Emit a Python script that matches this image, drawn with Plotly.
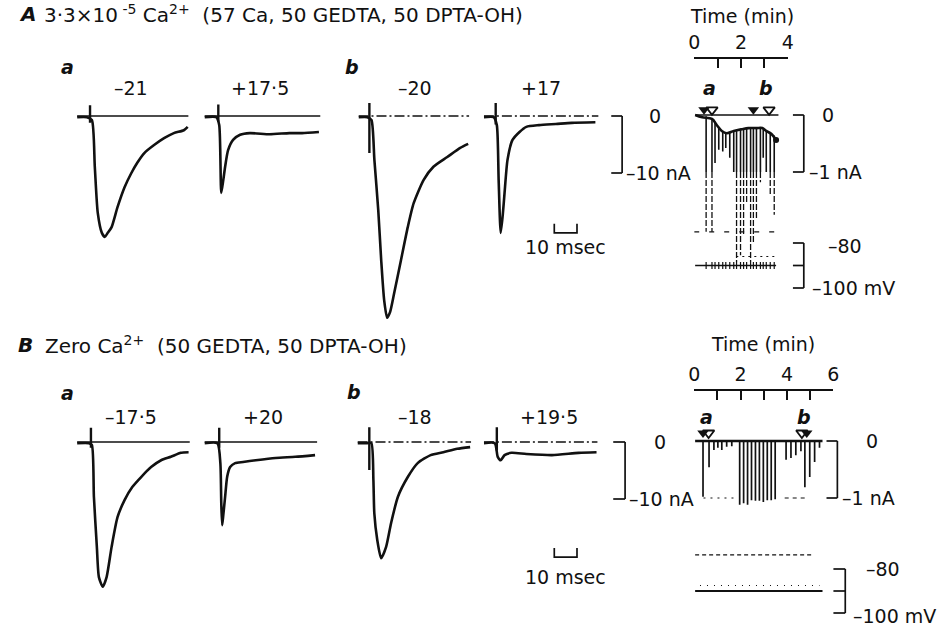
import plotly.graph_objects as go

W, H = 950, 627
FONT = "DejaVu Sans"
INK = "#111111"
FS = 19          # label font size
FS_HEAD = 20     # heading font size
MINUS = "\u2013"

# ---------------------------------------------------------------------------
# Membrane current records: time (ms from start of sweep), current (nA)
# ---------------------------------------------------------------------------
A_a1_t = [0, 4.3, 6.5, 7.8, 9.1, 10.9, 12.2, 13.5, 15.2, 17.8, 20.9, 23.9, 26.5, 29.6, 33.9, 38.3, 42.6, 47.0, 48.7]
A_a1_i = [-0.2, -0.2, -0.7, -8.9, -17.0, -20.5, -21.2, -20.5, -19.5, -16.0, -12.5, -10.0, -8.2, -6.5, -5.1, -3.9, -3.0, -2.5, -1.9]

A_a2_t = [0, 5.2, 6.5, 7.4, 8.3, 9.1, 10.4, 12.6, 15.7, 20.0, 28.7, 37.4, 43.0, 50.4]
A_a2_i = [-0.2, -0.2, -1.6, -13.5, -11.2, -8.9, -6.0, -4.2, -3.3, -3.0, -3.2, -3.0, -3.0, -2.8]

A_b1_t = [0, 3.9, 5.7, 7.0, 8.7, 10.0, 11.3, 12.6, 13.9, 15.7, 18.7, 21.7, 24.3, 28.7, 33.0, 39.1, 44.8, 48.3]
A_b1_i = [-0.2, -0.2, -0.7, -7.7, -16.5, -25.3, -32.3, -35.4, -34.4, -31.1, -25.3, -19.5, -15.3, -11.2, -8.9, -7.2, -5.6, -4.9]

A_b2_t = [0, 4.3, 5.7, 6.5, 7.4, 8.3, 9.1, 10.4, 12.6, 15.7, 18.7, 24.3, 31.7, 38.7, 49.1]
A_b2_i = [-0.2, -0.2, -1.6, -11.2, -20.5, -17.4, -13.5, -7.7, -4.2, -2.8, -1.9, -1.6, -1.4, -1.2, -1.1]

B_a1_t = [0, 5.2, 6.5, 7.4, 8.7, 9.6, 11.3, 13.0, 15.2, 17.8, 20.9, 24.3, 28.3, 32.6, 37.0, 41.3, 45.7, 49.1]
B_a1_i = [-0.2, -0.2, -0.5, -9.6, -18.4, -23.7, -25.4, -23.7, -18.4, -13.2, -10.2, -7.9, -6.1, -4.4, -3.2, -2.6, -1.9, -1.8]

B_a2_t = [0, 5.7, 7.0, 7.4, 7.8, 8.3, 9.1, 10.0, 11.3, 13.5, 17.0, 22.6, 31.3, 40.0, 48.7]
B_a2_i = [-0.2, -0.2, -3.7, -10.7, -14.6, -12.8, -9.6, -6.1, -4.4, -3.7, -3.5, -3.2, -2.8, -2.6, -2.3]

B_b1_t = [0, 4.3, 6.1, 7.0, 7.4, 8.7, 10.4, 12.6, 14.8, 17.8, 22.2, 26.5, 32.2, 37.8, 43.9, 49.6]
B_b1_i = [-0.2, -0.2, -0.2, -6.7, -12.5, -17.2, -20.4, -18.4, -14.2, -9.6, -6.1, -3.7, -2.3, -1.8, -1.2, -0.9]

B_b2_t = [0, 4.8, 6.1, 7.4, 9.1, 12.2, 18.7, 30.0, 41.7, 49.6]
B_b2_i = [-0.2, -0.2, -2.6, -3.2, -2.3, -1.9, -2.1, -2.3, -1.9, -1.8]

# stimulus artefacts: time (ms), upper and lower excursion (nA)
art_t = [5.7, 6.1, 4.8, 5.2, 6.1, 6.5, 5.2, 5.7]
art_hi = [1.9, 2.0, 2.3, 2.3, 2.5, 2.5, 2.6, 2.6]
art_lo = [-1.2, -1.0, -6.5, -1.5, -1.0, -1.0, -4.9, -1.5]

# zero-current reference length of each sweep (ms)
zero_end = [49.0, 51.0, 48.7, 50.4, 49.6, 49.6, 50.0, 50.0]

# test potentials (mV)
A_pot = [MINUS + "21", "+17\u00b75", MINUS + "20", "+17"]
B_pot = [MINUS + "17\u00b75", "+20", MINUS + "18", "+19\u00b75"]

# calibration
cal_ms = [0, 10]
cal_nA = [0, -10]
cal_chart_nA = [0, -1]
cal_mV = [-80, -90, -100]

# ---------------------------------------------------------------------------
# Chart-recorder records (time in min)
# ---------------------------------------------------------------------------
chA_time_labels = [0, 2, 4]
chB_time_labels = [0, 2, 4, 6]

chA_hold_t = [0.04, 0.34, 0.76, 0.97, 1.18, 1.39, 1.69, 2.03, 2.32, 2.66, 2.91, 3.08, 3.29, 3.50]
chA_hold_i = [0, -0.04, -0.07, -0.18, -0.28, -0.32, -0.28, -0.25, -0.23, -0.23, -0.23, -0.28, -0.33, -0.44]
chA_zero_t = [0.04, 3.6]
chA_pulse_t = [0.51, 0.76, 0.89, 1.05, 1.22, 1.35, 1.52, 1.69, 1.81, 1.98, 2.11, 2.24, 2.41, 2.53, 2.66, 2.83, 2.95, 3.08, 3.25, 3.42]
chA_pulse_from = [-0.02, -0.07, -0.12, -0.22, -0.28, -0.31, -0.30, -0.28, -0.27, -0.25, -0.24, -0.23, -0.23, -0.23, -0.23, -0.23, -0.23, -0.28, -0.31, -0.36]
chA_pulse_to = [-2.05, -2.05, -0.84, -0.61, -0.64, -0.58, -0.75, -1.0, -2.58, -2.46, -2.1, -1.53, -2.58, -2.23, -1.81, -1.18, -0.75, -1.0, -1.4, -1.75]
chA_limit_t = [0.0, 3.5]
chA_limit_i = [-2.05, -2.05]
chA_v_t = [0.04, 3.5]
chA_v = [-90, -90]
chA_vdot_t = [1.8, 3.5]
chA_vdot = [-86, -86]
chA_open = [0.76, 3.2]
chA_filled = [0.42, 2.53]
chA_marks = ["a", "b"]
chA_mark_t = [0.65, 3.05]

chB_zero_t = [0.04, 5.53]
chB_pulse_t = [0.38, 0.64, 0.85, 1.02, 1.19, 1.40, 1.62, 1.96, 2.13, 2.30, 2.47, 2.64, 2.81, 2.98, 3.15, 3.32, 3.49, 3.96, 4.17, 4.38, 4.60, 4.77, 4.98, 5.19, 5.40]
chB_pulse_to = [-0.98, -0.46, -0.16, -0.12, -0.16, -0.10, -0.09, -1.12, -1.09, -1.12, -1.04, -1.05, -1.05, -1.07, -1.04, -1.04, -1.02, -0.33, -0.30, -0.25, -0.18, -0.81, -0.63, -0.37, -0.12]
chB_dot1_t = [0.4, 1.7]
chB_dot2_t = [3.9, 4.8]
chB_v_t = [0.04, 5.53]
chB_v = [-90, -90]
chB_vdash_t = [0.04, 5.1]
chB_vdash = [-73.6, -73.6]
chB_vdot_t = [0.25, 5.4]
chB_vdot = [-87.5, -87.5]
chB_open = [0.62, 4.64]
chB_filled = [0.38, 4.85]
chB_marks = ["a", "b"]
chB_mark_t = [0.55, 4.75]


# ---------------------------------------------------------------------------
def px_x(p):
    return p / W


def px_y(p):
    return 1 - p / H


def hidden_y(top, bottom, ref_px, ref_val, ppu):
    return dict(domain=[px_y(bottom), px_y(top)],
                range=[ref_val - (bottom - ref_px) / ppu, ref_val + (ref_px - top) / ppu],
                visible=False, fixedrange=True)


def hidden_x(left, right, ppu, anchor):
    return dict(domain=[px_x(left), px_x(right)], range=[0, (right - left) / ppu],
                visible=False, fixedrange=True, anchor=anchor)


fig = go.Figure()
layout = {}
shapes = []
annotations = []

MS_PX = 2.3      # px per ms
NA_PX = 5.7      # px per nA

layout["yaxis"] = hidden_y(95, 335, 116, 0, NA_PX)
layout["yaxis2"] = hidden_y(420, 600, 442, 0, NA_PX)

sweep_left = [72, 201, 357, 484, 72, 201, 356, 484]
sweeps = [(A_a1_t, A_a1_i), (A_a2_t, A_a2_i), (A_b1_t, A_b1_i), (A_b2_t, A_b2_i),
          (B_a1_t, B_a1_i), (B_a2_t, B_a2_i), (B_b1_t, B_b1_i), (B_b2_t, B_b2_i)]

for k, (t, cur) in enumerate(sweeps):
    xn = k + 1
    yname = "y" if k < 4 else "y2"
    layout["xaxis" if xn == 1 else f"xaxis{xn}"] = hidden_x(sweep_left[k], sweep_left[k] + 128, MS_PX, yname)
    xname = "x" if xn == 1 else f"x{xn}"
    is_b = (k % 4) >= 2
    # zero-current reference
    fig.add_trace(go.Scatter(x=[0, zero_end[k]], y=[0, 0], xaxis=xname, yaxis=yname, mode="lines",
                             line=dict(color=INK, width=1.3, dash="10px,3px,2px,3px" if is_b else "solid"),
                             hoverinfo="skip", showlegend=False))
    # current record
    fig.add_trace(go.Scatter(x=t, y=cur, xaxis=xname, yaxis=yname, mode="lines",
                             line=dict(color=INK, width=2.6, shape="spline", smoothing=0.6),
                             hoverinfo="skip", showlegend=False))
    # artefact
    fig.add_trace(go.Scatter(x=[art_t[k], art_t[k]], y=[art_hi[k], art_lo[k]], xaxis=xname, yaxis=yname,
                             mode="lines", line=dict(color=INK, width=2.4),
                             hoverinfo="skip", showlegend=False))

# 10 msec calibration on the last sweep of each panel
for xname, yname, ylev in [("x4", "y", -20.5), ("x8", "y2", -20.2)]:
    x0 = 31
    fig.add_trace(go.Scatter(x=[x0 + cal_ms[0], x0 + cal_ms[0], x0 + cal_ms[1], x0 + cal_ms[1]],
                             y=[ylev + 1.6, ylev, ylev, ylev + 1.6], xaxis=xname, yaxis=yname,
                             mode="lines", line=dict(color=INK, width=1.7),
                             hoverinfo="skip", showlegend=False))

# ---------------------------------------------------------------------------
# chart-recorder axes: labelled every 2 min, ticked every minute
MIN_PX_A = 23.7
MIN_PX_B = 23.5
time_common = dict(side="top", anchor="free", showline=True, linecolor=INK, linewidth=1.6,
                   ticks="inside", ticklen=9, tickwidth=1.6, tickcolor=INK, showgrid=False,
                   zeroline=False, fixedrange=True, ticklabelstandoff=1,
                   minor=dict(ticks="inside", ticklen=9, tickwidth=1.6, tickcolor=INK, dtick=1,
                              showgrid=False),
                   tickfont=dict(family=FONT, size=FS, color=INK))
layout["xaxis9"] = dict(domain=[px_x(697), px_x(697 + 4 * MIN_PX_A)], range=[0, 4],
                        position=px_y(58), tickvals=chA_time_labels, **time_common)
layout["yaxis3"] = hidden_y(95, 300, 115, 0, 57)
layout["yaxis4"] = hidden_y(200, 300, 265.5, -90, 2.25)
layout["xaxis10"] = dict(domain=[px_x(697), px_x(697 + 6 * MIN_PX_B)], range=[0, 6],
                         position=px_y(390), tickvals=chB_time_labels, **time_common)
layout["yaxis5"] = hidden_y(420, 540, 441, 0, 57)
layout["yaxis6"] = hidden_y(540, 622, 591, -90, 2.2)


def segs(ts, y0s, y1s):
    xs, ys = [], []
    for t, a, b in zip(ts, y0s, y1s):
        xs += [t, t, None]
        ys += [a, b, None]
    return xs, ys


def line(x, y, xa, ya, width=1.3, dash="solid", shape="linear"):
    fig.add_trace(go.Scatter(x=x, y=y, xaxis=xa, yaxis=ya, mode="lines",
                             line=dict(color=INK, width=width, dash=dash, shape=shape),
                             hoverinfo="skip", showlegend=False))


# record A: pen strokes are solid down to the 1 nA mark, faint beyond it
lim = cal_chart_nA[1]
sx, sy = segs(chA_pulse_t, chA_pulse_from, [max(v, lim) for v in chA_pulse_to])
line(sx, sy, "x9", "y3", 1.6)
deep = [k for k, v in enumerate(chA_pulse_to) if v < lim]
sx, sy = segs([chA_pulse_t[k] for k in deep], [lim] * len(deep), [chA_pulse_to[k] for k in deep])
line(sx, sy, "x9", "y3", 1.3, dash="6px,2px")
line(chA_zero_t, [0, 0], "x9", "y3", 1.5)
line(chA_hold_t, chA_hold_i, "x9", "y3", 2.6, shape="spline")
line(chA_limit_t, chA_limit_i, "x9", "y3", 1.3, dash="5px,10px")
line(chA_v_t, chA_v, "x9", "y4", 1.7)
sx, sy = segs(chA_pulse_t, [-91.6] * len(chA_pulse_t), [-88.4] * len(chA_pulse_t))
line(sx, sy, "x9", "y4", 1.2)
line(chA_vdot_t, chA_vdot, "x9", "y4", 1.2, dash="2px,4px")
fig.add_trace(go.Scatter(x=[chA_hold_t[-1]], y=[chA_hold_i[-1]], xaxis="x9", yaxis="y3", mode="markers",
                         marker=dict(color=INK, size=6), hoverinfo="skip", showlegend=False))

# record B
sx, sy = segs(chB_pulse_t, [0] * len(chB_pulse_t), chB_pulse_to)
line(sx, sy, "x10", "y5", 1.7)
line(chB_zero_t, [0, 0], "x10", "y5", 2.6)
line(chB_dot1_t, [-1.0, -1.0], "x10", "y5", 1.2, dash="2px,5px")
line(chB_dot2_t, [-1.0, -1.0], "x10", "y5", 1.2, dash="4px,4px")
line(chB_v_t, chB_v, "x10", "y6", 1.9)
line(chB_vdash_t, chB_vdash, "x10", "y6", 1.2, dash="4px,3px")
line(chB_vdot_t, chB_vdot, "x10", "y6", 1.0, dash="1px,6px")

# sweep markers
for xa, ya, opn, fil, yv in [("x9", "y3", chA_open, chA_filled, 0.09),
                             ("x10", "y5", chB_open, chB_filled, 0.14)]:
    fig.add_trace(go.Scatter(x=fil, y=[yv] * len(fil), xaxis=xa, yaxis=ya, mode="markers",
                             marker=dict(symbol="triangle-down", size=10, color=INK),
                             hoverinfo="skip", showlegend=False))
    fig.add_trace(go.Scatter(x=opn, y=[yv] * len(opn), xaxis=xa, yaxis=ya, mode="markers",
                             marker=dict(symbol="triangle-down-open", size=10, color=INK,
                                         line=dict(width=1.8, color=INK)),
                             hoverinfo="skip", showlegend=False))


# ---------------------------------------------------------------------------
# calibration brackets
def bracket(x_left, x_right, yref, values):
    lo, hi = min(values), max(values)
    shapes.append(dict(type="line", xref="paper", yref=yref, x0=px_x(x_right), x1=px_x(x_right),
                       y0=lo, y1=hi, line=dict(color=INK, width=1.7)))
    for v in values:
        shapes.append(dict(type="line", xref="paper", yref=yref, x0=px_x(x_left), x1=px_x(x_right),
                           y0=v, y1=v, line=dict(color=INK, width=1.7)))


bracket(613, 624, "y", cal_nA)
bracket(615, 627, "y2", cal_nA)
bracket(797, 808, "y3", cal_chart_nA)
bracket(797, 808, "y4", cal_mV)
bracket(831, 842, "y5", cal_chart_nA)
bracket(838, 850, "y6", cal_mV)


def ann(text, x, y, size=FS, xanchor="center", yref="paper", yval=None, italic=False, bold=False,
        xref="paper", xval=None):
    if italic:
        text = f"<i>{text}</i>"
    if bold:
        text = f"<b>{text}</b>"
    annotations.append(dict(text=text, x=(px_x(x) if xval is None else xval),
                            y=(px_y(y) if yval is None else yval),
                            xref=xref, yref=yref, xanchor=xanchor, yanchor="middle",
                            showarrow=False, font=dict(family=FONT, size=size, color=INK)))


def num(v):
    return (MINUS if v < 0 else "") + str(abs(v))


# headings
ann("A", 11, 14, FS_HEAD, "left", italic=True, bold=True)
ann("3\u00b73\u00d710<sup> -5</sup> Ca<sup>2+</sup>  (57 Ca, 50 GEDTA, 50 DPTA-OH)", 36, 14, FS_HEAD, "left")
ann("B", 10, 345, FS_HEAD, "left", italic=True, bold=True)
ann("Zero Ca<sup>2+</sup>  (50 GEDTA, 50 DPTA-OH)", 37, 345, FS_HEAD, "left")

# sweep letters and potentials
for x, y, s in [(62, 67, "a"), (350, 67, "b"), (62, 393, "a"), (352, 392, "b")]:
    ann(s, x, y, FS, italic=True, bold=True)
for x, s in zip([127, 257, 414, 542], A_pot):
    ann(s, x, 88, FS)
for x, s in zip([127, 260, 414, 550], B_pot):
    ann(s, x, 417, FS)

# calibration labels
ann(f"{cal_ms[1]} msec", 567, 247, FS)
ann(f"{cal_ms[1]} msec", 567, 577, FS)
ann(num(cal_nA[0]), 657, None, FS, yref="y", yval=cal_nA[0])
ann(num(cal_nA[1]) + " nA", 626, None, FS, "left", yref="y", yval=cal_nA[1])
ann(num(cal_nA[0]), 662, None, FS, yref="y2", yval=cal_nA[0])
ann(num(cal_nA[1]) + " nA", 629, None, FS, "left", yref="y2", yval=cal_nA[1])
ann(num(cal_chart_nA[0]), 833, None, FS, yref="y3", yval=cal_chart_nA[0])
ann(num(cal_chart_nA[1]) + " nA", 811, None, FS, "left", yref="y3", yval=cal_chart_nA[1])
ann(num(cal_mV[0]), 830, None, FS, "left", yref="y4", yval=cal_mV[0] - 1.5)
ann(num(cal_mV[2]) + " mV", 814, None, FS, "left", yref="y4", yval=cal_mV[2])
ann(num(cal_chart_nA[0]), 877, None, FS, yref="y5", yval=cal_chart_nA[0])
ann(num(cal_chart_nA[1]) + " nA", 845, None, FS, "left", yref="y5", yval=cal_chart_nA[1])
ann(num(cal_mV[0]), 869, None, FS, "left", yref="y6", yval=cal_mV[0])
ann(num(cal_mV[2]) + " mV", 856, None, FS, "left", yref="y6", yval=cal_mV[2] - 1.5)

# chart-recorder headings and sweep letters
ann("Time (min)", 745, 16, FS)
ann("Time (min)", 767, 344, FS)
for t, s in zip(chA_mark_t, chA_marks):
    ann(s, 0, 88, FS, italic=True, bold=True, xref="x9", xval=t)
for t, s in zip(chB_mark_t, chB_marks):
    ann(s, 0, 417, FS, italic=True, bold=True, xref="x10", xval=t)

fig.update_layout(width=W, height=H, autosize=False, margin=dict(l=0, r=0, t=0, b=0),
                  paper_bgcolor="white", plot_bgcolor="rgba(0,0,0,0)", showlegend=False,
                  shapes=shapes, annotations=annotations, **layout)

fig.write_html("out.html", config={"displayModeBar": False})
